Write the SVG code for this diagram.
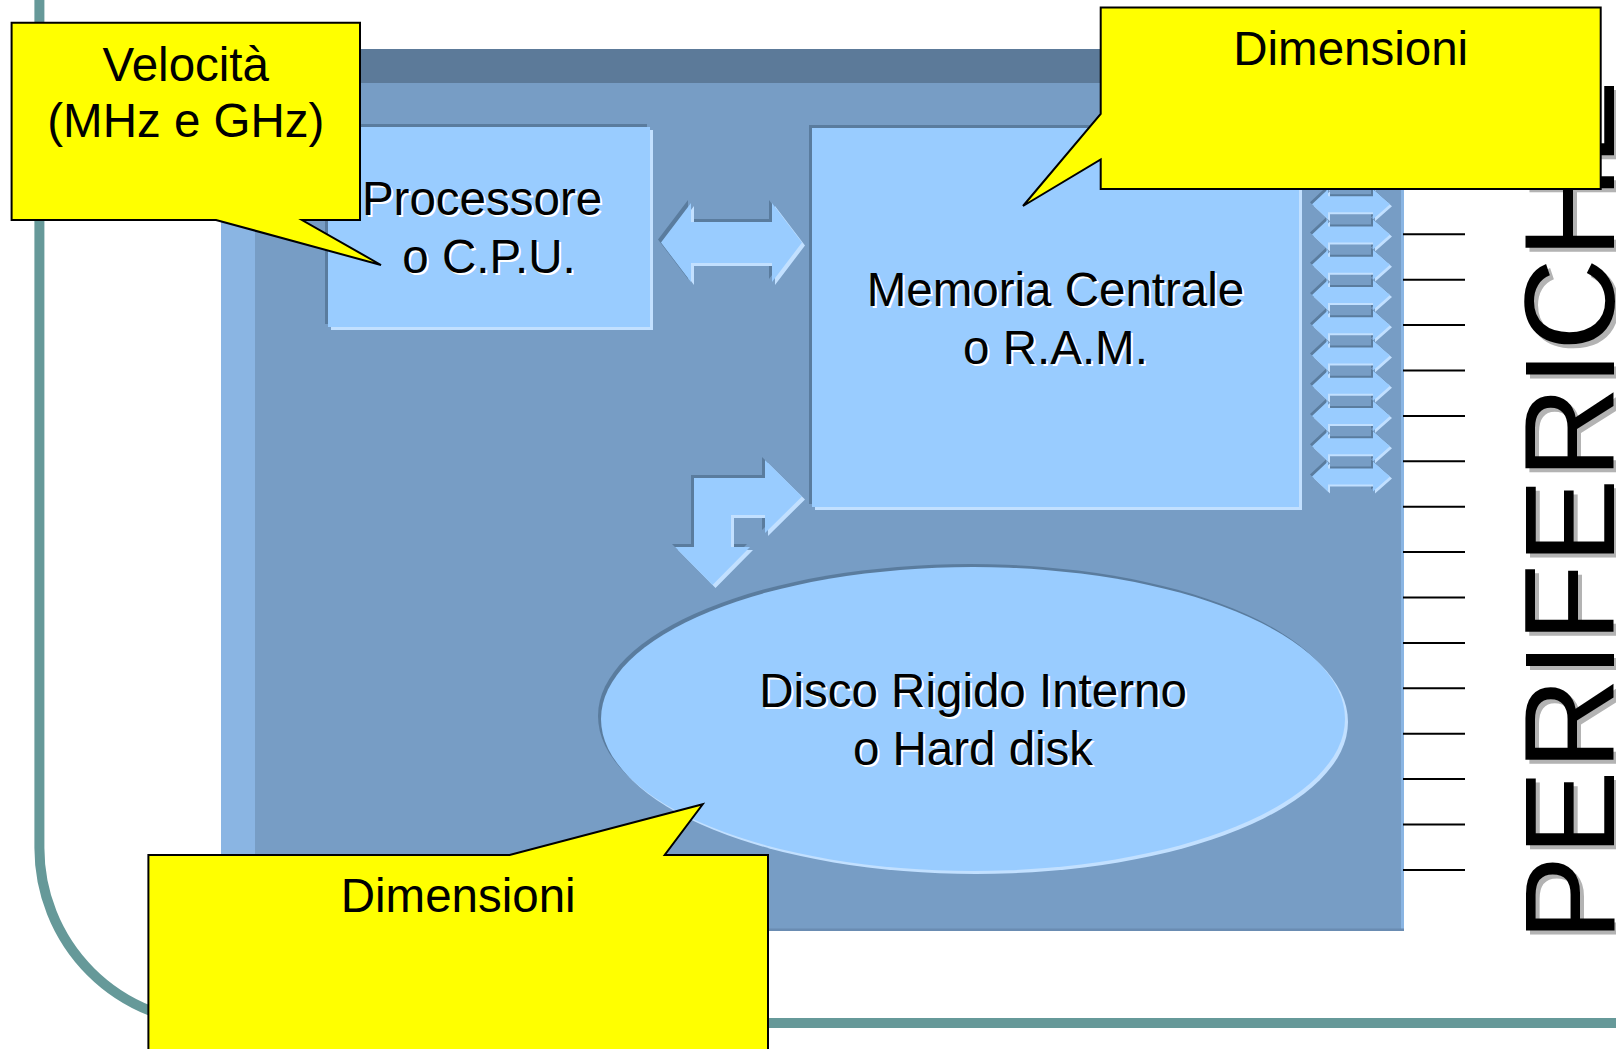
<svg xmlns="http://www.w3.org/2000/svg" xmlns:xlink="http://www.w3.org/1999/xlink" width="1616" height="1049" viewBox="0 0 1616 1049">
<style>
  .t { font-family: "Liberation Sans", Arial, sans-serif; font-size: 47.5px; text-anchor: middle; }
  .ink { fill: #000000; }
  .wsh { fill: #ffffff; }
  .face { fill: #99ccff; }
  .lo { fill: #5a7c9e; }
  .hi { fill: #c2e0ff; }
  .callout { fill: #ffff00; stroke: #000000; stroke-width: 2; stroke-linejoin: miter; }
  .tick { stroke: #000000; stroke-width: 2; }
  .big { font-family: "Liberation Sans", Arial, sans-serif; font-size: 128px; }
</style>
<defs>
  <rect id="cpuShape" x="328" y="127" width="322" height="200"/>
  <rect id="ramShape" x="812" y="128" width="487" height="379"/>
  <ellipse id="hdShape" cx="973" cy="719" rx="372" ry="152"/>
  <polygon id="dblArrow" points="661,242.5 691,203 691,222 772,222 772,203 802,242.5 772,282 772,263 691,263 691,282"/>
  <polygon id="bentArrow" points="694,478 765,478 765,460 802,496.5 765,533 765,515 731,515 731,547 750,547 712.5,585 675,547 694,547"/>
  <polygon id="busArrow" points="1312,0 1328,-15 1328,-8 1373,-8 1373,-15 1390,0 1373,15 1373,8 1328,8 1328,15"/>
</defs>

<rect x="0" y="0" width="1616" height="1049" fill="#ffffff"/>

<g id="frame">
  <path d="M39.4,0 V848 A175,175 0 0 0 214.4,1023 H1616" fill="none" stroke="#669999" stroke-width="10"/>
</g>

<g id="panel">
  <rect x="221" y="49" width="1183" height="882" fill="#779dc5"/>
  <rect x="221" y="49" width="1183" height="34" fill="#5c7a99"/>
  <rect x="221" y="83" width="34" height="848" fill="#8ab5e3"/>
  <rect x="1401" y="83" width="3" height="848" fill="#8ab5e3"/>
  <rect x="221" y="928.5" width="1183" height="2.5" fill="#6a8cb2"/>
</g>

<g id="cpu">
  <use xlink:href="#cpuShape" class="lo" transform="translate(-3,-3)"/>
  <use xlink:href="#cpuShape" class="hi" transform="translate(3,3)"/>
  <use xlink:href="#cpuShape" class="face"/>
  <text class="t wsh" x="484" y="217">Processore</text>
  <text class="t ink" x="482" y="215">Processore</text>
  <text class="t wsh" x="491" y="275">o C.P.U.</text>
  <text class="t ink" x="489" y="273">o C.P.U.</text>
</g>

<g id="ram">
  <use xlink:href="#ramShape" class="lo" transform="translate(-3,-3)"/>
  <use xlink:href="#ramShape" class="hi" transform="translate(3,3)"/>
  <use xlink:href="#ramShape" class="face"/>
  <text class="t wsh" x="1057.5" y="308">Memoria Centrale</text>
  <text class="t ink" x="1055.5" y="306">Memoria Centrale</text>
  <text class="t wsh" x="1057.5" y="366">o R.A.M.</text>
  <text class="t ink" x="1055.5" y="364">o R.A.M.</text>
</g>

<g id="harddisk">
  <use xlink:href="#hdShape" class="lo" transform="translate(-3,-3)"/>
  <use xlink:href="#hdShape" class="hi" transform="translate(3,3)"/>
  <use xlink:href="#hdShape" class="face"/>
  <text class="t wsh" x="975" y="709">Disco Rigido Interno</text>
  <text class="t ink" x="973" y="707">Disco Rigido Interno</text>
  <text class="t wsh" x="975" y="767">o Hard disk</text>
  <text class="t ink" x="973" y="765">o Hard disk</text>
</g>

<g id="connectors">
  <g id="cpu-ram">
    <use xlink:href="#dblArrow" class="lo" transform="translate(-3,-3)"/>
    <use xlink:href="#dblArrow" class="hi" transform="translate(3,3)"/>
    <use xlink:href="#dblArrow" class="face"/>
  </g>
  <g id="ram-disk">
    <use xlink:href="#bentArrow" class="lo" transform="translate(-3,-3)"/>
    <use xlink:href="#bentArrow" class="hi" transform="translate(3,3)"/>
    <use xlink:href="#bentArrow" class="face"/>
  </g>
  <g id="bus">
    <g class="lo">
      <use xlink:href="#busArrow" transform="translate(-2,141.8)"/>
      <use xlink:href="#busArrow" transform="translate(-2,172.05)"/>
      <use xlink:href="#busArrow" transform="translate(-2,202.3)"/>
      <use xlink:href="#busArrow" transform="translate(-2,232.55)"/>
      <use xlink:href="#busArrow" transform="translate(-2,262.8)"/>
      <use xlink:href="#busArrow" transform="translate(-2,293.05)"/>
      <use xlink:href="#busArrow" transform="translate(-2,323.3)"/>
      <use xlink:href="#busArrow" transform="translate(-2,353.55)"/>
      <use xlink:href="#busArrow" transform="translate(-2,383.8)"/>
      <use xlink:href="#busArrow" transform="translate(-2,414.05)"/>
      <use xlink:href="#busArrow" transform="translate(-2,444.3)"/>
      <use xlink:href="#busArrow" transform="translate(-2,474.55)"/>
    </g>
    <g class="hi">
      <use xlink:href="#busArrow" transform="translate(2,145.8)"/>
      <use xlink:href="#busArrow" transform="translate(2,176.05)"/>
      <use xlink:href="#busArrow" transform="translate(2,206.3)"/>
      <use xlink:href="#busArrow" transform="translate(2,236.55)"/>
      <use xlink:href="#busArrow" transform="translate(2,266.8)"/>
      <use xlink:href="#busArrow" transform="translate(2,297.05)"/>
      <use xlink:href="#busArrow" transform="translate(2,327.3)"/>
      <use xlink:href="#busArrow" transform="translate(2,357.55)"/>
      <use xlink:href="#busArrow" transform="translate(2,387.8)"/>
      <use xlink:href="#busArrow" transform="translate(2,418.05)"/>
      <use xlink:href="#busArrow" transform="translate(2,448.3)"/>
      <use xlink:href="#busArrow" transform="translate(2,478.55)"/>
    </g>
    <g class="face">
      <use xlink:href="#busArrow" transform="translate(0,143.8)"/>
      <use xlink:href="#busArrow" transform="translate(0,174.05)"/>
      <use xlink:href="#busArrow" transform="translate(0,204.3)"/>
      <use xlink:href="#busArrow" transform="translate(0,234.55)"/>
      <use xlink:href="#busArrow" transform="translate(0,264.8)"/>
      <use xlink:href="#busArrow" transform="translate(0,295.05)"/>
      <use xlink:href="#busArrow" transform="translate(0,325.3)"/>
      <use xlink:href="#busArrow" transform="translate(0,355.55)"/>
      <use xlink:href="#busArrow" transform="translate(0,385.8)"/>
      <use xlink:href="#busArrow" transform="translate(0,416.05)"/>
      <use xlink:href="#busArrow" transform="translate(0,446.3)"/>
      <use xlink:href="#busArrow" transform="translate(0,476.55)"/>
    </g>
  </g>
  <g id="ports" class="tick">
    <line x1="1403" y1="189" x2="1465" y2="189"/>
    <line x1="1403" y1="234.3" x2="1465" y2="234.3"/>
    <line x1="1403" y1="279.7" x2="1465" y2="279.7"/>
    <line x1="1403" y1="325.1" x2="1465" y2="325.1"/>
    <line x1="1403" y1="370.5" x2="1465" y2="370.5"/>
    <line x1="1403" y1="415.9" x2="1465" y2="415.9"/>
    <line x1="1403" y1="461.3" x2="1465" y2="461.3"/>
    <line x1="1403" y1="506.7" x2="1465" y2="506.7"/>
    <line x1="1403" y1="552.1" x2="1465" y2="552.1"/>
    <line x1="1403" y1="597.5" x2="1465" y2="597.5"/>
    <line x1="1403" y1="642.9" x2="1465" y2="642.9"/>
    <line x1="1403" y1="688.3" x2="1465" y2="688.3"/>
    <line x1="1403" y1="733.7" x2="1465" y2="733.7"/>
    <line x1="1403" y1="779.1" x2="1465" y2="779.1"/>
    <line x1="1403" y1="824.5" x2="1465" y2="824.5"/>
    <line x1="1403" y1="869.9" x2="1465" y2="869.9"/>
  </g>
</g>

<g id="periferiche">
  <text class="big" fill="#b3b3b3" transform="translate(1618,945) rotate(-90)">PERIFERICHE</text>
  <text class="big" fill="#000000" transform="translate(1614,941) rotate(-90)">PERIFERICHE</text>
</g>

<g id="callout-velocita">
  <polygon class="callout" points="11.6,22.7 360,22.7 360,220 302,220 381,265 216,220 11.6,220"/>
  <text class="t ink" x="185.8" y="81">Velocità</text>
  <text class="t ink" x="185.8" y="137">(MHz e GHz)</text>
</g>

<g id="callout-dim-ram">
  <polygon class="callout" points="1100.7,7.5 1600.7,7.5 1600.7,189 1100.7,189 1100.7,159.5 1023,206 1100.7,114"/>
  <text class="t ink" x="1350.7" y="65">Dimensioni</text>
</g>

<g id="callout-dim-disk">
  <polygon class="callout" points="148.4,855 509.6,855 702.7,804.3 664.7,855 768,855 768,1060 148.4,1060"/>
  <text class="t ink" x="458.2" y="911.7">Dimensioni</text>
</g>
</svg>
